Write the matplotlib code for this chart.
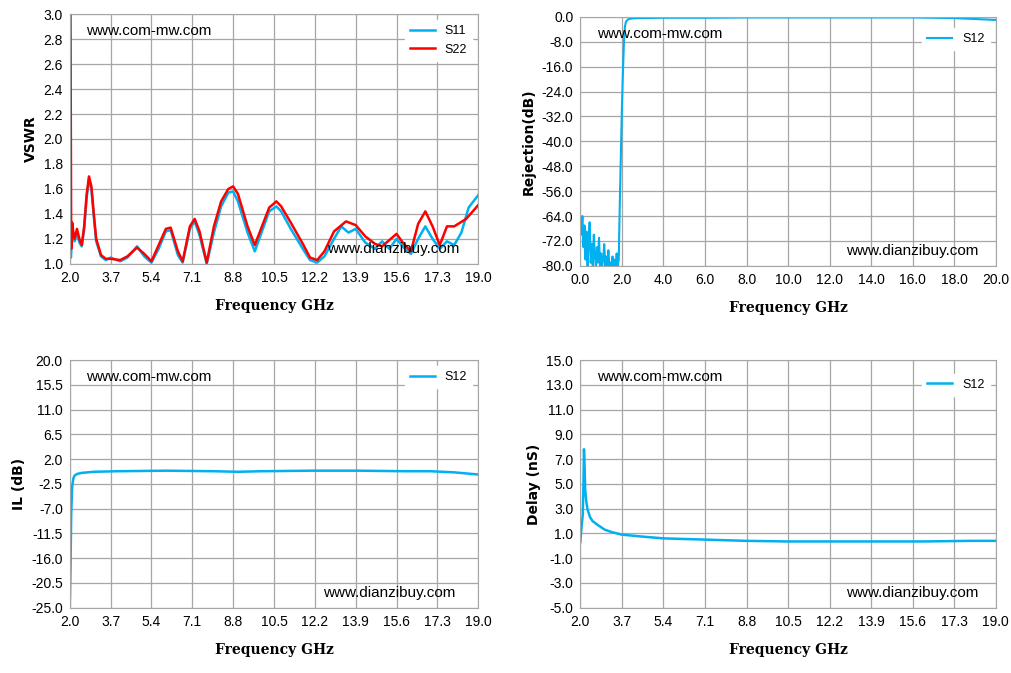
import numpy as np
import matplotlib.pyplot as plt

# ---- data ----
vswr_f22 = [2.0, 2.03, 2.06, 2.1, 2.15, 2.2, 2.3, 2.4, 2.5, 2.6, 2.7, 2.8, 2.9, 3.0, 3.1, 3.3, 3.5, 3.7, 4.1, 4.4, 4.8, 5.1, 5.4,
            5.7, 6.0, 6.2, 6.5, 6.7, 7.0, 7.2, 7.4, 7.7, 8.0, 8.3, 8.6, 8.8, 9.0, 9.4, 9.7, 10.0, 10.3, 10.6, 10.8,
            11.2, 11.7, 12.0, 12.3, 12.6, 13.0, 13.5, 13.9, 14.3, 14.7, 15.0, 15.3, 15.6, 15.9, 16.2, 16.5, 16.8,
            17.1, 17.4, 17.7, 18.0, 18.5, 19.0]
vswr_s22 = [3.0, 3.0, 1.12, 1.33, 1.25, 1.2, 1.28, 1.2, 1.15, 1.3, 1.55, 1.7, 1.62, 1.4, 1.2, 1.07, 1.04, 1.04, 1.03, 1.06, 1.13, 1.08, 1.02,
            1.15, 1.28, 1.29, 1.1, 1.02, 1.3, 1.36, 1.26, 1.01, 1.3, 1.5, 1.6, 1.62, 1.56, 1.3, 1.15, 1.3, 1.45, 1.5, 1.46,
            1.33, 1.16, 1.05, 1.03, 1.1, 1.26, 1.34, 1.31, 1.22, 1.16, 1.14, 1.19, 1.24, 1.16, 1.1, 1.32, 1.42,
            1.3, 1.15, 1.3, 1.3, 1.36, 1.47]
vswr_f11 = [2.0, 2.05, 2.1, 2.2, 2.3, 2.4, 2.5, 2.6, 2.7, 2.8, 2.9, 3.0, 3.1, 3.3, 3.5, 3.7, 4.1, 4.4, 4.8, 5.1, 5.4,
            5.7, 6.0, 6.2, 6.5, 6.7, 7.0, 7.2, 7.4, 7.7, 8.0, 8.3, 8.6, 8.8, 9.0, 9.4, 9.7, 10.0, 10.3, 10.6, 10.8,
            11.2, 11.7, 12.0, 12.3, 12.6, 13.0, 13.3, 13.6, 13.9, 14.3, 14.7, 15.0, 15.3, 15.6, 15.9, 16.2, 16.5, 16.8,
            17.1, 17.4, 17.7, 18.0, 18.3, 18.6, 19.0]
vswr_s11 = [1.1, 1.05, 1.25, 1.18, 1.25, 1.17, 1.14, 1.28, 1.52, 1.68, 1.6, 1.38, 1.18, 1.06, 1.03, 1.05, 1.02, 1.05, 1.14, 1.06, 1.01,
            1.12, 1.26, 1.27, 1.07, 1.01, 1.28, 1.34, 1.23, 1.0, 1.25, 1.46, 1.57, 1.58, 1.5, 1.25, 1.1, 1.26, 1.42, 1.46, 1.42,
            1.28, 1.12, 1.03, 1.01, 1.06, 1.2, 1.3, 1.25, 1.28, 1.17, 1.12, 1.18, 1.12, 1.2, 1.13, 1.08, 1.2, 1.3,
            1.2, 1.12, 1.18, 1.15, 1.25, 1.45, 1.55]

rej_f = [0.0, 0.05, 0.1, 0.15, 0.2, 0.25, 0.3, 0.35, 0.4, 0.45, 0.5, 0.55, 0.6, 0.65, 0.7, 0.75, 0.8, 0.85, 0.9, 0.95,
         1.0, 1.05, 1.1, 1.15, 1.2, 1.25, 1.3, 1.35, 1.4, 1.45, 1.5, 1.55, 1.6, 1.65, 1.7, 1.75, 1.8, 1.85, 1.9, 1.95,
         2.0, 2.05, 2.1, 2.15, 2.2, 2.3, 2.5, 3.0, 4.0, 6.0, 8.0, 10.0, 12.0, 14.0, 16.0, 18.0, 19.0, 20.0]
rej_s12 = [-66, -70, -64, -74, -67, -78, -69, -80, -72, -66, -79, -73, -80, -70, -77, -80, -74, -79, -71, -80,
           -76, -80, -78, -73, -80, -77, -80, -75, -80, -79, -80, -77, -80, -78, -80, -76, -80, -78, -60, -45,
           -30, -18, -8, -3, -1.5, -0.8, -0.5, -0.4, -0.3, -0.3, -0.2, -0.2, -0.2, -0.2, -0.2, -0.4, -0.7, -1.0]

il_f = [2.0, 2.03, 2.06, 2.1, 2.15, 2.2, 2.3, 2.5, 3.0, 4.0, 6.0, 8.0, 9.0, 10.0, 12.0, 14.0, 16.0, 17.0, 18.0, 19.0]
il_s12 = [-25.0, -18.0, -8.0, -3.0, -1.5, -1.0, -0.7, -0.5, -0.3, -0.2, -0.1, -0.2, -0.3, -0.2, -0.1, -0.1, -0.2, -0.2, -0.4, -0.8]

dl_f = [2.0, 2.05, 2.1, 2.13, 2.15, 2.18, 2.2, 2.25, 2.3, 2.4, 2.5, 2.7, 3.0, 3.3, 3.7, 4.5, 5.4, 7.1, 8.8, 10.5, 12.2, 14.0, 16.0, 18.0, 19.0]
dl_s12 = [0.3, 1.5, 2.5, 5.0, 7.8, 6.0, 4.5, 3.5, 2.9, 2.3, 2.0, 1.7, 1.3, 1.1, 0.9, 0.75, 0.6, 0.5, 0.4, 0.35, 0.35, 0.35, 0.35, 0.4, 0.4]

freq_ticks = [2.0, 3.7, 5.4, 7.1, 8.8, 10.5, 12.2, 13.9, 15.6, 17.3, 19.0]

blue = '#00b0f0'
red = '#ff0000'
lab_font = dict(family='DejaVu Serif', weight='bold', size=10)

fig = plt.figure(figsize=(10.11, 6.73), dpi=100)
plt.rcParams['font.family'] = ['Liberation Sans', 'DejaVu Sans']


def style(ax, xt, yt, ylabel):
    ax.set_xticks(xt)
    ax.set_yticks(yt)
    ax.set_xlim(xt[0], xt[-1])
    ax.set_ylim(yt[0], yt[-1])
    ax.set_xticklabels(['%.1f' % v for v in xt], fontsize=10)
    ax.set_yticklabels(['%.1f' % v for v in yt], fontsize=10)
    ax.grid(color='#a6a6a6', lw=0.9)
    for s in ax.spines.values():
        s.set_color('#a6a6a6')
    ax.tick_params(length=0, pad=5)
    ax.set_xlabel('Frequency GHz', fontdict=lab_font, labelpad=10)
    ax.set_ylabel(ylabel, fontdict=dict(lab_font, family='DejaVu Sans'))


ax1 = fig.add_axes([0.069, 0.608, 0.404, 0.371])
ax1.plot(vswr_f11, vswr_s11, color=blue, lw=1.8, label='S11')
ax1.plot(vswr_f22, vswr_s22, color=red, lw=1.8, label='S22')
style(ax1, freq_ticks, np.round(np.arange(1.0, 3.01, 0.2), 1), 'VSWR')
ax1.text(0.04, 0.96, 'www.com-mw.com', transform=ax1.transAxes, fontsize=11, va='top')
ax1.text(0.63, 0.03, 'www.dianzibuy.com', transform=ax1.transAxes, fontsize=11, va='bottom')
ax1.legend(loc='upper right', fontsize=9, frameon=True, edgecolor='white', framealpha=1)

ax2 = fig.add_axes([0.574, 0.605, 0.411, 0.37])
ax2.plot(rej_f, rej_s12, color=blue, lw=1.5, label='S12')
style(ax2, np.arange(0, 20.1, 2.0), np.arange(-80, 0.1, 8.0), 'Rejection(dB)')
ax2.text(0.04, 0.96, 'www.com-mw.com', transform=ax2.transAxes, fontsize=11, va='top')
ax2.text(0.64, 0.03, 'www.dianzibuy.com', transform=ax2.transAxes, fontsize=11, va='bottom')
ax2.legend(loc='upper right', bbox_to_anchor=(1.0, 0.98), fontsize=9, edgecolor='white', framealpha=1)

ax3 = fig.add_axes([0.069, 0.097, 0.404, 0.368])
ax3.plot(il_f, il_s12, color=blue, lw=1.8, label='S12')
style(ax3, freq_ticks, np.arange(-25.0, 20.1, 4.5), 'IL (dB)')
ax3.text(0.04, 0.96, 'www.com-mw.com', transform=ax3.transAxes, fontsize=11, va='top')
ax3.text(0.62, 0.03, 'www.dianzibuy.com', transform=ax3.transAxes, fontsize=11, va='bottom')
ax3.legend(loc='upper right', fontsize=9, edgecolor='white', framealpha=1)

ax4 = fig.add_axes([0.574, 0.097, 0.411, 0.368])
ax4.plot(dl_f, dl_s12, color=blue, lw=1.8, label='S12')
style(ax4, freq_ticks, np.arange(-5.0, 15.1, 2.0), 'Delay (nS)')
ax4.text(0.04, 0.96, 'www.com-mw.com', transform=ax4.transAxes, fontsize=11, va='top')
ax4.text(0.64, 0.03, 'www.dianzibuy.com', transform=ax4.transAxes, fontsize=11, va='bottom')
ax4.legend(loc='upper right', bbox_to_anchor=(1.0, 0.97), fontsize=9, edgecolor='white', framealpha=1)

fig.savefig('out.png', dpi=100)
